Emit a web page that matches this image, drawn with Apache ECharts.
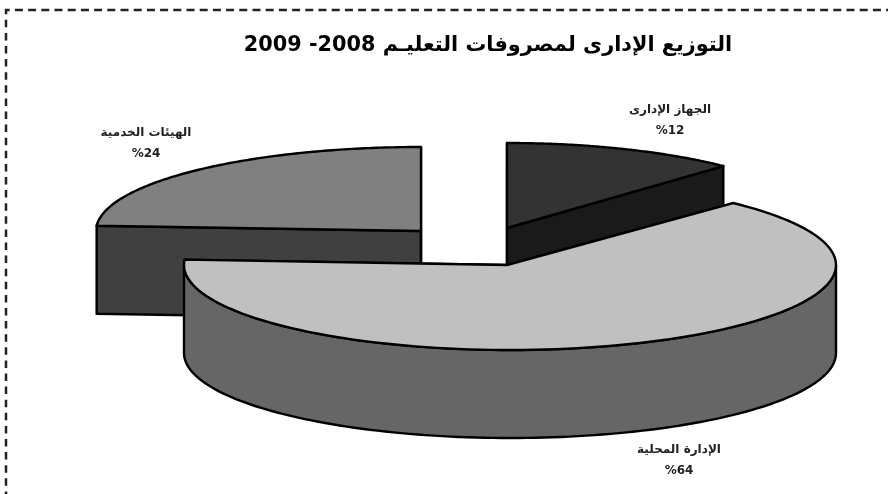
<!DOCTYPE html>
<html>
<head>
<meta charset="utf-8">
<style>html,body{margin:0;padding:0;background:#fff}#c{width:888px;height:494px;direction:rtl}</style>
<script src="https://cdn.jsdelivr.net/npm/echarts@6/dist/echarts.min.js"></script>
</head>
<body>
<div id="c"></div>
<script>
var categories = ['الجهاز الإدارى', 'الإدارة المحلية', 'الهيئات الخدمية'];
var shares = [12, 64, 24];
var percentLabels = ['%12', '%64', '%24'];
var chartTitle = 'التوزيع الإدارى لمصروفات التعليـم 2008- 2009';

var topColors = ['#333333', '#c0c0c0', '#808080'];
var wallColors = ['#1a1a1a', '#666666', '#404040'];
var tips = [[507, 228], [507, 265], [421, 231]];
var labelPos = [[670, 110], [679, 450], [146, 133]];
var radiiX = [316, 326, 325], radiiY = [85, 85, 84];
var DEPTH = 88;
var drawOrder = [2, 0, 1];

var chart = echarts.init(document.getElementById('c'), null, {renderer: 'canvas'});

function startAngle(i) {
  var s = 0;
  for (var k = 0; k < i; k++) s += shares[k];
  return s / 100 * 2 * Math.PI;
}

function renderItem(params, api) {
  var i = api.value(0);
  var a0 = startAngle(i), a1 = a0 + shares[i] / 100 * 2 * Math.PI;
  var tip = tips[i];
  var cx = tip[0] + (i === 1 ? 3 : 0);
  var cy = tip[1];
  function rim(a, d) {
    return api.coord([cx + radiiX[i] * Math.sin(a), cy - radiiY[i] * Math.cos(a) + (d || 0)]);
  }
  var tipTop = api.coord([tip[0], tip[1]]);
  var tipBot = api.coord([tip[0], tip[1] + DEPTH]);
  var steps = 120, topPts = [tipTop], k;
  for (k = 0; k <= steps; k++) topPts.push(rim(a0 + (a1 - a0) * k / steps));
  var children = [];
  var lineStyle = {stroke: '#000', lineWidth: 2.4, lineJoin: 'round'};
  function poly(points, fill) {
    children.push({type: 'polygon', shape: {points: points},
      style: Object.assign({fill: fill}, lineStyle)});
  }
  // cut faces
  poly([tipTop, rim(a0), rim(a0, DEPTH), tipBot], wallColors[i]);
  poly([tipTop, rim(a1), rim(a1, DEPTH), tipBot], wallColors[i]);
  // outer wall: front-facing rim only
  var wa0 = Math.max(a0, Math.PI / 2), wa1 = Math.min(a1, 3 * Math.PI / 2);
  if (wa1 > wa0) {
    var wall = [];
    for (k = 0; k <= steps; k++) wall.push(rim(wa0 + (wa1 - wa0) * k / steps));
    for (k = steps; k >= 0; k--) wall.push(rim(wa0 + (wa1 - wa0) * k / steps, DEPTH));
    poly(wall, wallColors[i]);
  }
  poly(topPts, topColors[i]);
  var lp = api.coord(labelPos[i]);
  children.push({type: 'text', style: {x: lp[0], y: lp[1], text: categories[i],
    font: 'bold 12px "DejaVu Sans"', fill: '#222', align: 'center', verticalAlign: 'middle'}});
  children.push({type: 'text', style: {x: lp[0], y: lp[1] + 21, text: percentLabels[i],
    font: 'bold 12px "DejaVu Sans"', fill: '#222', align: 'center', verticalAlign: 'middle'}});
  return {type: 'group', children: children};
}

var borderStyleX = {stroke: '#222', lineWidth: 2.5, lineDash: [8, 5.2], lineDashOffset: 3.3};
var borderStyleY = {stroke: '#222', lineWidth: 2.5, lineDash: [7.5, 5.6], lineDashOffset: 2.3};

chart.setOption({
  animation: false,
  backgroundColor: '#fff',
  title: {text: chartTitle, left: 483, top: 30, textAlign: 'center',
    textStyle: {fontFamily: 'DejaVu Sans', fontWeight: 'bold', fontSize: 20.8, color: '#000'}},
  grid: {left: 0, right: 0, top: 0, bottom: 0},
  xAxis: {type: 'value', min: 0, max: 888, show: false},
  yAxis: {type: 'value', min: 0, max: 494, inverse: true, show: false},
  series: [{
    type: 'custom',
    coordinateSystem: 'cartesian2d',
    clip: false,
    renderItem: renderItem,
    encode: {x: 1, y: 2},
    data: drawOrder.map(function (i) { return [i, tips[i][0], tips[i][1]]; })
  }],
  graphic: [
    {type: 'line', silent: true, z: 10, shape: {x1: 5, y1: 10, x2: 888, y2: 10}, style: borderStyleX},
    {type: 'line', silent: true, z: 10, shape: {x1: 6, y1: 9, x2: 6, y2: 494}, style: borderStyleY}
  ]
});
</script>
</body>
</html>
